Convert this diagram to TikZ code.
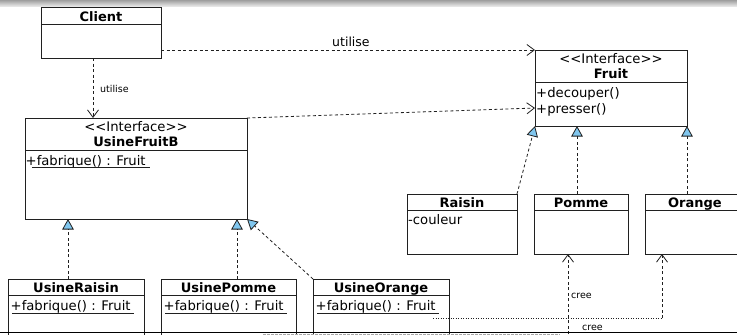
\documentclass[tikz,border=0pt]{standalone}
\usepackage{fontspec}
\setmainfont{DejaVu Sans}
\usetikzlibrary{arrows.meta,calc}
\definecolor{triblue}{HTML}{80C6EE}
\definecolor{linec}{HTML}{202020}
\begin{document}
\begin{tikzpicture}[x=1pt,y=-1pt,
 box/.style={draw=linec, fill=white, line width=0.9pt, inner sep=0pt, outer sep=0pt, anchor=north west},
 sep/.style={draw=linec, line width=0.9pt},
 ttl/.style={font=\fontsize{13}{15}\selectfont\bfseries, inner sep=0pt, anchor=base},
 txt/.style={font=\fontsize{13.2}{15}\selectfont, inner sep=0pt, anchor=base},
 mth/.style={font=\fontsize{13.2}{15}\selectfont, inner sep=0pt, anchor=base west},
 uline/.style={draw=linec, line width=0.8pt},
 lbl/.style={font=\fontsize{12.5}{14}\selectfont, inner sep=0pt, anchor=base west},
 slbl/.style={font=\fontsize{9.5}{11}\selectfont, inner sep=0pt, anchor=base west},
 dep/.style={draw=linec, line width=0.8pt, dash pattern=on 3pt off 2.5pt, -{Straight Barb[length=7.5pt,width=11pt]}},
 dotl/.style={draw=linec, line width=0.8pt, dash pattern=on 1.4pt off 1.1pt},
 real/.style={draw=linec, line width=0.8pt, dash pattern=on 3pt off 2.5pt, -{Triangle[length=10.5pt,width=11.5pt,fill=triblue]}},
]
\useasboundingbox (0,0) rectangle (737,335);
\clip (0,0) rectangle (737,335);
\fill[white] (0,0) rectangle (737,335);
\shade[top color=black!38, bottom color=black!10] (0,0) rectangle (737,6);

% Client
\node[box, minimum width=120pt, minimum height=51pt] (client) at (41,7) {};
\draw[sep] ([yshift=-17pt]client.north west) -- ([yshift=-17pt]client.north east);
\node[ttl] at ([yshift=-14pt]client.north) {Client};

% Fruit
\node[box, minimum width=152pt, minimum height=76pt] (fruit) at (535,50) {};
\draw[sep] ([yshift=-32pt]fruit.north west) -- ([yshift=-32pt]fruit.north east);
\node[txt] at ([yshift=-13pt]fruit.north) {<\kern0pt<Interface>\kern0pt>};
\node[ttl] at ([yshift=-28pt]fruit.north) {Fruit};
\node[mth] at ([xshift=1pt,yshift=-47pt]fruit.north west) {+decouper()};
\node[mth] at ([xshift=1pt,yshift=-63pt]fruit.north west) {+presser()};

% UsineFruitB
\node[box, minimum width=222pt, minimum height=101pt] (ufb) at (25,118) {};
\draw[sep] ([yshift=-32pt]ufb.north west) -- ([yshift=-32pt]ufb.north east);
\node[txt] at ([yshift=-13pt]ufb.north) {<\kern0pt<Interface>\kern0pt>};
\node[ttl] at ([yshift=-28pt]ufb.north) {UsineFruitB};
\node[mth] (ufbm) at ([xshift=0.5pt,yshift=-47pt]ufb.north west) {+fabrique() : Fruit};
\draw[uline] ([xshift=6.5pt,yshift=-2.5pt]ufbm.base west) -- ([xshift=4pt,yshift=-2.5pt]ufbm.base east);

% Raisin, Pomme, Orange
\node[box, minimum width=110pt, minimum height=60pt] (raisin) at (407,194) {};
\draw[sep] ([yshift=-16pt]raisin.north west) -- ([yshift=-16pt]raisin.north east);
\node[ttl] at ([yshift=-13pt]raisin.north) {Raisin};
\node[mth] at ([xshift=1pt,yshift=-30pt]raisin.north west) {-couleur};

\node[box, minimum width=94pt, minimum height=60pt] (pomme) at (534,194) {};
\draw[sep] ([yshift=-16pt]pomme.north west) -- ([yshift=-16pt]pomme.north east);
\node[ttl] at ([yshift=-13pt]pomme.north) {Pomme};

\node[box, minimum width=100pt, minimum height=60pt] (orange) at (645,194) {};
\draw[sep] ([yshift=-16pt]orange.north west) -- ([yshift=-16pt]orange.north east);
\node[ttl] at ([yshift=-13pt]orange.north) {Orange};

% Usine boxes
\node[box, minimum width=136pt, minimum height=70pt] (ur) at (8,279) {};
\draw[sep] ([yshift=-16pt]ur.north west) -- ([yshift=-16pt]ur.north east);
\node[ttl] at ([yshift=-13pt]ur.north) {UsineRaisin};
\node[mth] (urm) at ([xshift=2.5pt,yshift=-31pt]ur.north west) {+fabrique() : Fruit};
\draw[uline] ([xshift=1.5pt,yshift=-3pt]urm.base west) -- ([xshift=3pt,yshift=-3pt]urm.base east);

\node[box, minimum width=135pt, minimum height=70pt] (up) at (161,279) {};
\draw[sep] ([yshift=-16pt]up.north west) -- ([yshift=-16pt]up.north east);
\node[ttl] at ([yshift=-13pt]up.north) {UsinePomme};
\node[mth] (upm) at ([xshift=2.5pt,yshift=-31pt]up.north west) {+fabrique() : Fruit};
\draw[uline] ([xshift=1.5pt,yshift=-3pt]upm.base west) -- ([xshift=3pt,yshift=-3pt]upm.base east);

\node[box, minimum width=136pt, minimum height=70pt] (uo) at (313,279) {};
\draw[sep] ([yshift=-16pt]uo.north west) -- ([yshift=-16pt]uo.north east);
\node[ttl] at ([yshift=-13pt]uo.north) {UsineOrange};
\node[mth] (uom) at ([xshift=2.5pt,yshift=-31pt]uo.north west) {+fabrique() : Fruit};
\draw[uline] ([xshift=1.5pt,yshift=-3pt]uom.base west) -- ([xshift=3pt,yshift=-3pt]uom.base east);

% dependencies
\draw[dep] ([xshift=-8pt]client.south) -- ([xshift=-8pt]client.south |- ufb.north);
\node[slbl] at (100,92) {utilise};
\draw[dep] (client.east |- fruit.north west) -- (fruit.north west);
\node[lbl] at (332,46) {utilise};
\draw[dep] (ufb.north east) -- ([yshift=-58pt]fruit.north west);

% realizations
\draw[real] (raisin.north east) -- (fruit.south west);
\draw[real] ([xshift=-4pt]pomme.north) -- ([xshift=-4pt]pomme.north |- fruit.south);
\draw[real] (orange.north -| fruit.south east) -- (fruit.south east);
\draw[real] ([xshift=-8pt]ur.north) -- ([xshift=-8pt]ur.north |- ufb.south);
\draw[real] ([xshift=8.5pt]up.north) -- ([xshift=8.5pt]up.north |- ufb.south);
\draw[real] (uo.north west) -- (ufb.south east);

% cree
\coordinate (creeA) at (568,345);
\draw[dep] (creeA) -- (creeA |- pomme.south);
\node[slbl] at (571,298) {cree};
\coordinate (creeB) at (433,318);
\coordinate (creeC) at ([xshift=17pt]orange.south west |- creeB);
\draw[dotl] (creeB) -- (creeC);
\draw[dep] (creeC) -- ([xshift=17pt]orange.south west);
\node[slbl] at (582,330) {cree};

% bottom frame
\coordinate (f1) at (0,332);
\coordinate (f2) at (737,332);
\draw[black, line width=1pt] (f1) -- (f2);
\coordinate (g1) at (263,334.5);
\coordinate (g2) at (560,334.5);
\draw[black!35, line width=1pt, dash pattern=on 2.5pt off 1.5pt] (g1) -- (g2);
\end{tikzpicture}
\end{document}
